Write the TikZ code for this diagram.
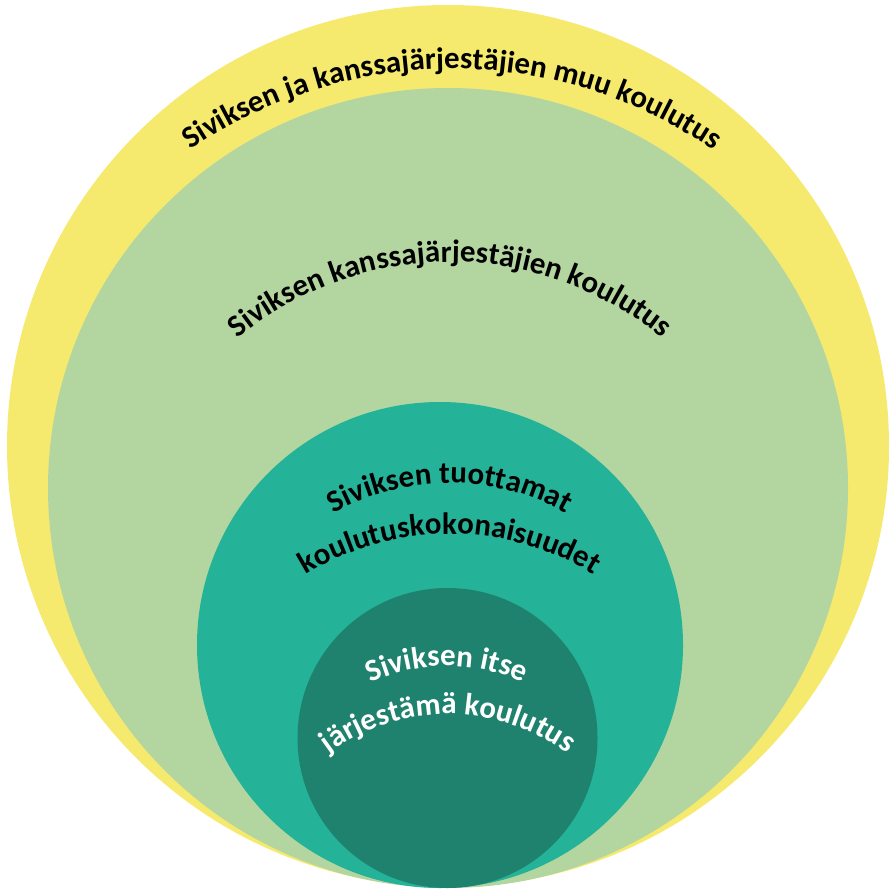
\documentclass[tikz,border=0pt]{standalone}
\usepackage{fontspec}
\setmainfont{Carlito}
\usepackage{tikz}
\usetikzlibrary{decorations.text}
\definecolor{ringyellow}{RGB}{245,233,110}
\definecolor{ringgreen}{RGB}{179,214,160}
\definecolor{ringteal}{RGB}{36,178,152}
\definecolor{ringdark}{RGB}{31,130,111}
\newcommand{\arcfont}{\bfseries\fontsize{8.8}{10}\selectfont}
\tikzset{arctext/.style={decorate,decoration={text along path,text align=center,text={|\arcfont|#1}}}}
\tikzset{arctextw/.style={decorate,decoration={text along path,text align=center,text color=white,text={|\arcfont|#1}}}}

\begin{document}
\begin{tikzpicture}[x=0.01cm,y=0.01cm]
\useasboundingbox (0,0) rectangle (892,888);
% rings
\coordinate (outer) at (448,442);
\coordinate (mid) at (448,400);
\coordinate (inner) at (440,243);
\coordinate (core) at (447.5,150);
\fill[ringyellow] (outer) circle (441);
\fill[ringgreen] (mid) circle (400);
\fill[ringteal] (inner) circle (243);
\fill[ringdark] (core) circle (150);
% curved labels
\path[arctext={Siviksen ja kanssajärjestäjien muu koulutus}] (452,357) ++(150:462) arc (150:30:462);
\path[arctext={Siviksen kanssajärjestäjien koulutus}] (450,293) ++(150:333) arc (150:30:333);
\path[arctext={Siviksen tuottamat}] (450,168) ++(140:237) arc (140:40:237);
\path[arctext={koulutuskokonaisuudet}] (450,78) ++(140:276) arc (140:40:276);
\path[arctextw={Siviksen itse}] (447,40) ++(140:182) arc (140:40:182);
\path[arctextw={järjestämä koulutus}] (448,-25) ++(140:199) arc (140:40:199);
\end{tikzpicture}
\end{document}
